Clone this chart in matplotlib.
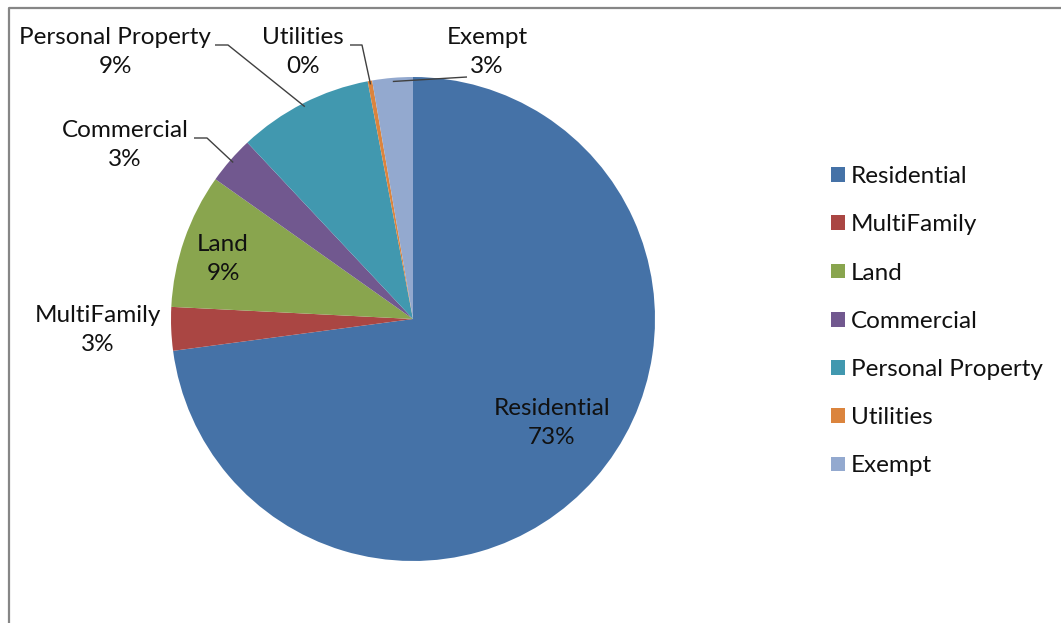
import numpy as np
import matplotlib
matplotlib.use("Agg")
import matplotlib.pyplot as plt
from matplotlib.lines import Line2D

categories = ["Residential", "MultiFamily", "Land", "Commercial",
              "Personal Property", "Utilities", "Exempt"]
values = [72.9, 2.9, 9.0, 3.2, 9.0, 0.3, 2.7]
pct_labels = ["73%", "3%", "9%", "3%", "9%", "0%", "3%"]
colors = ["#4572A7", "#AA4643", "#89A54E", "#71588F", "#4198AF", "#DB843D", "#93A9CF"]

plt.rcParams['font.family'] = ['Lato', 'DejaVu Sans']
FS = 17.5

W, H = 1061, 623
fig = plt.figure(figsize=(W / 100, H / 100), dpi=100)
fig.patch.set_facecolor("white")

cx, cy, R = 413, 319, 242
ax = fig.add_axes([(cx - R) / W, (H - cy - R) / H, 2 * R / W, 2 * R / H])
wedges, _ = ax.pie(values, colors=colors, startangle=90, counterclock=False,
                   radius=1.0, wedgeprops=dict(linewidth=0))
ax.set_xlim(-1, 1)
ax.set_ylim(-1, 1)
ax.set_aspect("equal")
ax.axis("off")


def px(x, y):
    return ((x - cx) / R, (cy - y) / R)


def edge(i, r=0.98):
    w = wedges[i]
    a = np.deg2rad((w.theta1 + w.theta2) / 2)
    return (r * np.cos(a), r * np.sin(a))


# label positions (pixel layout)
label_pos = {
    0: (552, 423),
    1: (98, 330),
    2: (223, 259),
    3: (125, 145),
    4: (115, 52),
    5: (303, 52),
    6: (487, 52),
}
for i, (lx, ly) in label_pos.items():
    x, y = px(lx, ly)
    ax.text(x, y, f"{categories[i]}\n{pct_labels[i]}", ha="center", va="center",
            fontsize=FS, linespacing=1.5, color="#111111", clip_on=False)

leaders = {
    3: [(194, 138), (207, 138)],
    4: [(215, 45), (228, 45)],
    5: [(350, 45), (362, 45)],
    6: [(467, 77)],
}
for i, pts in leaders.items():
    xs = [px(*p)[0] for p in pts]
    ys = [px(*p)[1] for p in pts]
    ex, ey = edge(i, 0.985)
    ax.plot(xs + [ex], ys + [ey], color="#404040", lw=1.0, clip_on=False,
            solid_capstyle="butt")

leg = fig.legend(wedges, categories, loc="upper left",
                 bbox_to_anchor=(819 / W, 1 - 154 / H), frameon=False,
                 fontsize=FS, handlelength=0.55, handleheight=0.55,
                 handletextpad=0.25, labelspacing=1.12, borderpad=0)
for t in leg.get_texts():
    t.set_color("#111111")

# chart border (top and left visible)
fig.add_artist(Line2D([8.5 / W, 8.5 / W, 1.0], [0.0, 1 - 8 / H, 1 - 8 / H],
                      transform=fig.transFigure, color="#868686", lw=1.6))

fig.savefig("out.png", dpi=100, facecolor="white")
